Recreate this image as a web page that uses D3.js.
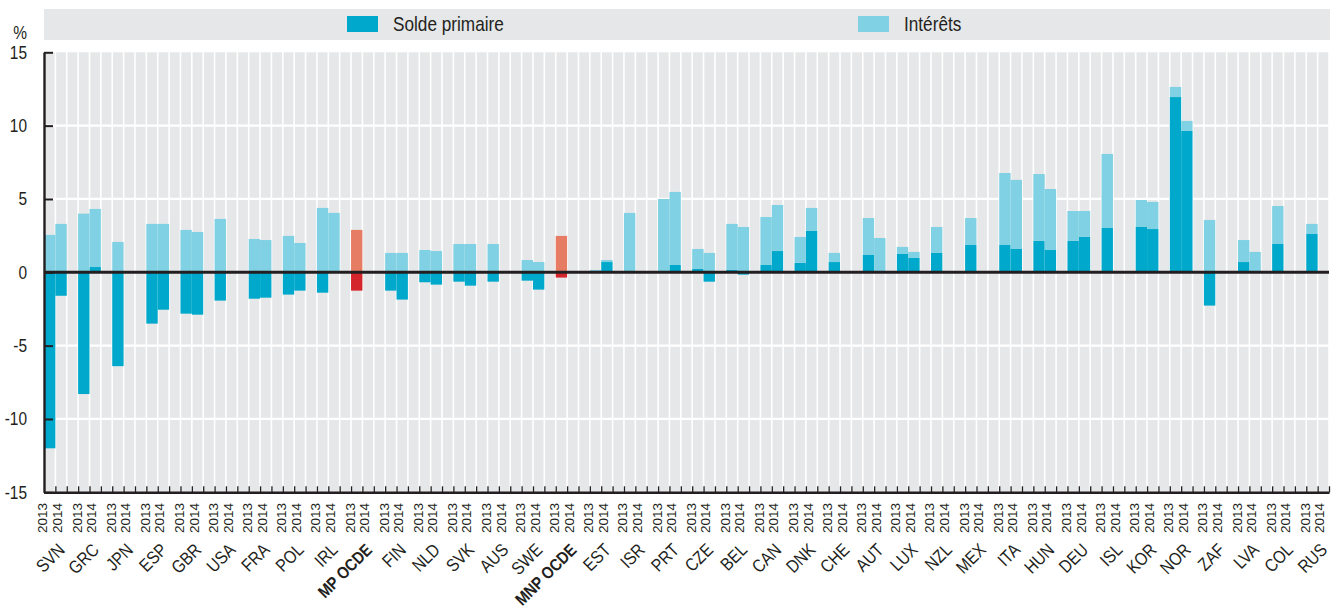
<!DOCTYPE html>
<html><head><meta charset="utf-8">
<script src="https://cdn.jsdelivr.net/npm/d3@7"></script>
<style>
body{margin:0;background:#fff;}
svg text{font-family:"Liberation Sans",Arial,sans-serif;fill:#231f20;}
</style></head><body>
<svg id="chart" width="1338" height="611"></svg>
<script>
// ---- data ----
const countries = ["SVN","GRC","JPN","ESP","GBR","USA","FRA","POL","IRL","MP OCDE","FIN","NLD","SVK","AUS","SWE","MNP OCDE","EST","ISR","PRT","CZE","BEL","CAN","DNK","CHE","AUT","LUX","NZL","MEX","ITA","HUN","DEU","ISL","KOR","NOR","ZAF","LVA","COL","RUS"];
const aggregates = ["MP OCDE","MNP OCDE"];
const years = ["2013","2014"];
const seriesNames = ["Solde primaire","Intérêts"];
const primary2013 = [-12.0,-8.3,-6.4,-3.5,-2.82,-1.93,-1.8,-1.52,-1.39,-1.25,-1.25,-0.68,-0.64,-0.64,-0.57,-0.36,0,0,0,0.23,0.16,0.5,0.64,0.7,1.18,1.25,1.32,1.86,1.86,2.14,2.14,3.02,3.09,11.95,-2.27,0.7,1.93,2.61];
const interest2013 = [2.55,4.0,2.07,3.3,2.89,3.64,2.27,2.48,4.39,2.89,1.32,1.52,1.93,1.93,0.84,2.48,0.16,4.05,5.0,1.36,3.14,3.27,1.77,0.62,2.52,0.48,1.77,1.84,4.91,4.56,2.04,5.05,1.84,0.69,3.57,1.5,2.59,0.69];
const primary2014 = [-1.6,0.36,null,-2.55,-2.89,null,-1.73,-1.25,0,null,-1.86,-0.84,-0.91,null,-1.18,null,0.7,null,0.5,-0.64,-0.16,1.45,2.82,null,0,0.98,null,null,1.59,1.52,2.41,null,2.95,9.64,null,0,null,null];
const interest2014 = [3.3,3.96,null,3.3,2.75,null,2.2,2.0,4.05,null,1.32,1.45,1.93,null,0.7,null,0.14,null,4.98,1.32,3.09,3.14,1.57,null,2.34,0.41,null,null,4.71,4.16,1.77,null,1.85,0.68,null,1.39,null,null];
const yTicks = [-15,-10,-5,0,5,10,15];

// ---- layout ----
const plot = {left:44, right:1329, top:52.3, bottom:492.3};
const colors = {primary:"#00a9cb", interest:"#80d1e3"};
const aggColors = {primary:"#d5252c", interest:"#e67c63"};
const grey = "#e6e7e8";
const narrow = 0.86;

const svg = d3.select("#chart");
const nSlots = countries.length*3 - 1;
const xSlot = d3.scaleBand().domain(d3.range(nSlots)).range([plot.left, plot.right]).padding(0);
const xEdge = d3.scaleLinear().domain([0, nSlots]).range([plot.left, plot.right]);
const y = d3.scaleLinear().domain([-15, 15]).range([plot.bottom, plot.top]);

// rows
const rows = [];
countries.forEach((c, i) => {
  [[primary2013, interest2013], [primary2014, interest2014]].forEach(([p, q], j) => {
    if (p[i] == null) return;
    rows.push({country:c, year:years[j], slot:3*i + j, primary:p[i], interest:q[i], agg:aggregates.includes(c)});
  });
});
const stacked = d3.stack().keys(["primary","interest"]).offset(d3.stackOffsetDiverging)(rows);

// legend
svg.append("rect").attr("x", 44).attr("y", 9).attr("width", 1286).attr("height", 31).attr("fill", grey);
const legendX = [347, 858];
seriesNames.forEach((name, k) => {
  const key = k === 0 ? "primary" : "interest";
  svg.append("rect").attr("x", legendX[k]).attr("y", 16).attr("width", 31).attr("height", 16).attr("fill", colors[key]);
  svg.append("text").attr("transform", `translate(${legendX[k] + 46},31) scale(${narrow},1)`)
    .style("font-size", "20px").text(name);
});

// % label
svg.append("text").attr("transform", `translate(20,39) scale(${narrow},1)`).attr("text-anchor", "middle").style("font-size", "18px").text("%");

// background
svg.append("rect").attr("x", plot.left).attr("y", plot.top).attr("width", plot.right - plot.left).attr("height", plot.bottom - plot.top).attr("fill", grey);
svg.append("g").selectAll("line").data(d3.range(1, nSlots + 1)).join("line")
  .attr("x1", d => xEdge(d)).attr("x2", d => xEdge(d))
  .attr("y1", plot.top).attr("y2", plot.bottom)
  .attr("stroke", "#fff").attr("stroke-width", 1.6);
svg.append("g").selectAll("line").data(yTicks.filter(t => t !== 0 && Math.abs(t) !== 15)).join("line")
  .attr("x1", plot.left).attr("x2", plot.right)
  .attr("y1", d => y(d)).attr("y2", d => y(d))
  .attr("stroke", "#fff").attr("stroke-width", 2.2);

// bars
const gBars = svg.append("g");
stacked.forEach(s => {
  gBars.append("g").selectAll("rect").data(s).join("rect")
    .attr("x", d => xSlot(d.data.slot))
    .attr("width", xSlot.bandwidth())
    .attr("y", d => y(Math.max(d[0], d[1])))
    .attr("height", d => Math.abs(y(d[0]) - y(d[1])))
    .attr("fill", d => (d.data.agg ? aggColors : colors)[s.key]);
});

// zero line
svg.append("line").attr("x1", plot.left).attr("x2", plot.right).attr("y1", y(0)).attr("y2", y(0))
  .attr("stroke", "#231f20").attr("stroke-width", 3);

// y axis
const gy = svg.append("g").attr("transform", `translate(${plot.left},0)`)
  .call(d3.axisLeft(y).tickValues(yTicks).tickFormat(d => String(d)).tickSizeInner(-9).tickSizeOuter(0).tickPadding(17));
gy.attr("font-family", null).attr("font-size", null);
gy.select(".domain").attr("stroke", "#231f20").attr("stroke-width", 2.4);
gy.selectAll(".tick line").attr("stroke", "#231f20").attr("stroke-width", 2);
gy.selectAll(".tick text")
  .attr("x", null).attr("dy", null)
  .attr("transform", `translate(-17,6) scale(${narrow},1)`)
  .style("font-size", "18px").attr("fill", "#231f20");

// x axis
const gx = svg.append("g").attr("transform", `translate(0,${plot.bottom})`)
  .call(d3.axisBottom(xEdge).tickValues(d3.range(1, nSlots + 1)).tickSizeInner(-6).tickSizeOuter(0).tickFormat(""));
gx.select(".domain").attr("stroke", "#231f20").attr("stroke-width", 2.6);
gx.selectAll(".tick line").attr("stroke", "#231f20").attr("stroke-width", 1.3);

// year labels
const yearLabels = [];
countries.forEach((c, i) => years.forEach((yr, j) => yearLabels.push({yr, slot:3*i + j, j})));
svg.append("g").selectAll("text").data(yearLabels).join("text")
  .attr("transform", d => `translate(${xSlot(d.slot) + xSlot.bandwidth()/2 + (d.j === 0 ? -2.2 : 1)},503) rotate(-90)`)
  .attr("text-anchor", "end")
  .style("font-size", "13.5px")
  .text(d => d.yr);

// country labels
svg.append("g").selectAll("text").data(countries).join("text")
  .attr("transform", (c, i) => `translate(${xSlot(3*i) + 22},551) rotate(-45) scale(${narrow},1)`)
  .attr("text-anchor", "end")
  .style("font-size", c => aggregates.includes(c) ? "17px" : "18px")
  .style("font-weight", c => aggregates.includes(c) ? "bold" : "normal")
  .text(c => c);
</script>
</body></html>
